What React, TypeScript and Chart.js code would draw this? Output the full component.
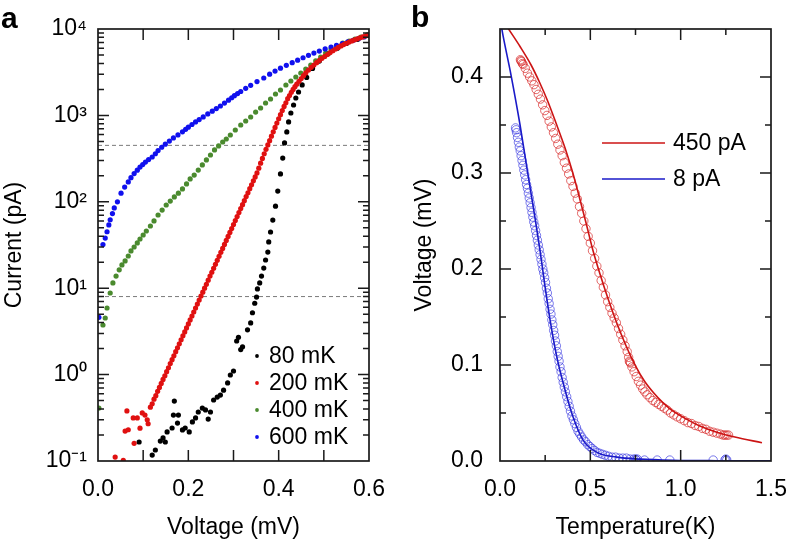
import React, { useEffect, useRef } from 'react';
import { Chart, registerables } from 'chart.js';

Chart.register(...registerables);

const FONT = '"Liberation Sans", Arial, Helvetica, sans-serif';
Chart.defaults.font.family = FONT;
Chart.defaults.color = '#000';

// ---------------- Panel a : I-V curves (log current) ----------------
const LEGEND_A = ['80 mK', '200 mK', '400 mK', '600 mK'];
const COLORS_A = ['#000000', '#e01010', '#4a8a2e', '#1010ee'];

const V_80 = [0.091, 0.120, 0.127, 0.138, 0.144, 0.149, 0.153, 0.164, 0.167, 0.169, 0.176, 0.178, 0.187, 0.193, 0.202, 0.209, 0.216, 0.222, 0.231, 0.238, 0.244, 0.249, 0.256, 0.264, 0.271, 0.278, 0.287, 0.293, 0.300, 0.307, 0.311, 0.316, 0.320, 0.331, 0.338, 0.342, 0.347, 0.351, 0.353, 0.358, 0.362, 0.367, 0.371, 0.376, 0.378, 0.382, 0.387, 0.393, 0.398, 0.404, 0.409, 0.413, 0.418, 0.422, 0.427, 0.433, 0.438, 0.444, 0.452, 0.462, 0.475, 0.490, 0.510, 0.530, 0.550, 0.575, 0.600];
const I_80 = [0.166, 0.117, 0.134, 0.170, 0.185, 0.166, 0.217, 0.241, 0.340, 0.494, 0.275, 0.340, 0.229, 0.241, 0.217, 0.283, 0.315, 0.369, 0.410, 0.390, 0.306, 0.369, 0.508, 0.550, 0.580, 0.660, 0.800, 0.990, 1.10, 2.45, 2.70, 1.95, 2.10, 3.30, 3.96, 5.2, 6.7, 7.9, 9.8, 11.5, 13.8, 17.1, 21.2, 26.2, 34.3, 44.7, 61.5, 89, 133, 210, 321, 480, 643, 840, 1066, 1320, 1589, 1866, 2250, 2750, 3500, 4250, 5200, 6000, 6800, 7600, 8400];

const V_200 = [0.038, 0.056, 0.060, 0.064, 0.067, 0.078, 0.080, 0.087, 0.093, 0.098, 0.104, 0.109, 0.111,
  0.116, 0.120, 0.124, 0.128, 0.132, 0.136, 0.140, 0.144, 0.148, 0.152, 0.156, 0.160, 0.164, 0.168, 0.172, 0.176, 0.180, 0.184, 0.188, 0.192, 0.196, 0.200,
  0.204, 0.208, 0.212, 0.216, 0.220, 0.224, 0.228, 0.232, 0.236, 0.240, 0.244, 0.248, 0.252, 0.256, 0.260, 0.264, 0.268, 0.272, 0.276, 0.280, 0.284, 0.288,
  0.292, 0.296, 0.300, 0.304, 0.308, 0.312, 0.316, 0.320, 0.324, 0.328, 0.332, 0.336, 0.340, 0.344, 0.348, 0.352, 0.356, 0.360, 0.364, 0.368, 0.372, 0.376,
  0.380, 0.384, 0.388, 0.392, 0.396, 0.400, 0.404, 0.408, 0.412, 0.416, 0.420, 0.424, 0.428, 0.432, 0.436, 0.440, 0.445, 0.450, 0.455, 0.460, 0.466, 0.472,
  0.478, 0.484, 0.490, 0.496, 0.502, 0.508, 0.514, 0.520, 0.526, 0.532, 0.538, 0.544, 0.550, 0.556, 0.562, 0.568, 0.574, 0.580, 0.586, 0.592, 0.598];
const I_200 = [0.111, 0.102, 0.222, 0.380, 0.230, 0.315, 0.160, 0.315, 0.240, 0.360, 0.340, 0.300, 0.270,
  0.42, 0.46, 0.52, 0.57, 0.64, 0.71, 0.79, 0.88, 0.97, 1.08, 1.20, 1.34, 1.49, 1.65, 1.84, 2.04, 2.27, 2.53, 2.81, 3.12, 3.47, 3.86,
  4.29, 4.77, 5.30, 5.89, 6.55, 7.28, 8.10, 9.0, 10.0, 11.1, 12.4, 13.8, 15.3, 17.0, 18.9, 21.0, 23.4, 26.0, 28.9, 32.1, 35.7, 39.7,
  44.2, 49.1, 54.6, 60.7, 67.4, 75.0, 83.4, 92.7, 103, 115, 127, 142, 157, 175, 194, 216, 245, 280, 318, 360, 405, 455,
  510, 575, 645, 725, 815, 915, 1020, 1140, 1270, 1400, 1560, 1700, 1850, 2000, 2150, 2300, 2480, 2670, 2880, 3100, 3350, 3600,
  3830, 4080, 4330, 4580, 4820, 5070, 5330, 5600, 5870, 6120, 6370, 6600, 6830, 7050, 7280, 7500, 7700, 7900, 8100, 8300, 8480];

const V_400 = [0.002, 0.011, 0.016, 0.020, 0.027, 0.033, 0.040, 0.047, 0.053, 0.060, 0.067, 0.073, 0.080, 0.087, 0.093, 0.100, 0.107, 0.116, 0.124, 0.133,
  0.142, 0.151, 0.160, 0.169, 0.178, 0.187, 0.196, 0.204, 0.213, 0.222, 0.231, 0.240, 0.249, 0.258, 0.267, 0.276, 0.284, 0.293, 0.304, 0.316,
  0.327, 0.338, 0.349, 0.360, 0.371, 0.382, 0.393, 0.404, 0.416, 0.427, 0.438, 0.449, 0.460, 0.471, 0.482, 0.493, 0.504, 0.516, 0.529, 0.542,
  0.556, 0.569, 0.582, 0.596];
const I_400 = [0.41, 3.75, 4.52, 5.90, 8.80, 11.5, 13.8, 16.3, 18.6, 20.7, 23.6, 27.0, 30.0, 33.4, 37.1, 41.3, 45.9, 52.5, 60.0, 70.3,
  80.3, 91.8, 102, 114, 126, 141, 161, 184, 204, 233, 267, 305, 348, 398, 443, 492, 533, 593, 678, 774,
  861, 958, 1094, 1218, 1392, 1549, 1770, 1968, 2249, 2501, 2782, 3097, 3443, 3830, 4266, 4742, 5276, 5869, 6357, 6886,
  7263, 7656, 8080, 8530];

const V_600 = [0.002, 0.011, 0.016, 0.020, 0.024, 0.027, 0.032, 0.036, 0.043, 0.051, 0.059, 0.067, 0.073, 0.080, 0.087, 0.093, 0.099, 0.105, 0.112, 0.120,
  0.127, 0.133, 0.141, 0.149, 0.158, 0.167, 0.177, 0.187, 0.194, 0.200, 0.208, 0.216, 0.224, 0.233, 0.243, 0.253, 0.262, 0.271, 0.280, 0.289,
  0.296, 0.302, 0.309, 0.316, 0.327, 0.338, 0.352, 0.367, 0.380, 0.392, 0.404, 0.417, 0.430, 0.442, 0.454, 0.466, 0.478, 0.490, 0.503, 0.516,
  0.528, 0.541, 0.553, 0.565, 0.577, 0.589, 0.600];
const I_600 = [4.6, 32, 38, 45, 54, 62, 73, 85, 100, 126, 148, 170, 190, 212, 232, 252, 270, 288, 308, 330,
  360, 392, 428, 465, 505, 548, 595, 645, 690, 730, 785, 840, 895, 960, 1040, 1120, 1200, 1285, 1390, 1500,
  1600, 1690, 1790, 1890, 2060, 2230, 2460, 2710, 3000, 3260, 3520, 3800, 4080, 4360, 4650, 4960, 5270, 5560, 5880, 6180,
  6480, 6790, 7080, 7400, 7740, 8080, 8500];

const DASH_LEVELS = [450, 8];

const A_X_TICKS = [0, 0.1, 0.2, 0.3, 0.4, 0.5, 0.6];
const A_X_LABELS = ['0.0', '', '0.2', '', '0.4', '', '0.6'];
const A_Y_DECADES = [0.1, 1, 10, 100, 1000, 10000];
const A_Y_LABELS = ['10\u207B\u00B9', '10\u2070', '10\u00B9', '10\u00B2', '10\u00B3', '10\u2074'];
const A_Y_MINOR = [2, 3, 4, 5, 6, 7, 8, 9];

// ---------------- Panel b : V(T) at fixed current ----------------
const LEGEND_B = ['450 pA', '8 pA'];
const COLORS_B_LINE = ['#cc1414', '#1a1ac8'];
const COLORS_B_PTS = ['rgba(215,40,40,0.7)', 'rgba(50,50,225,0.65)'];

const T_450 = [0.113, 0.116, 0.119, 0.124, 0.128, 0.140, 0.152, 0.164, 0.176, 0.188, 0.200, 0.212, 0.224, 0.236, 0.248, 0.260, 0.272, 0.284, 0.296, 0.308,
  0.320, 0.332, 0.344, 0.356, 0.368, 0.380, 0.392, 0.404, 0.416, 0.428, 0.440, 0.452, 0.464, 0.476, 0.488, 0.500, 0.512, 0.524, 0.536, 0.548,
  0.560, 0.572, 0.584, 0.596, 0.608, 0.620, 0.632, 0.644, 0.656, 0.668, 0.680, 0.692, 0.704, 0.712, 0.716, 0.719, 0.722, 0.730, 0.742, 0.754,
  0.766, 0.778, 0.790, 0.802, 0.814, 0.830, 0.846, 0.862, 0.878, 0.894, 0.910, 0.926, 0.944, 0.962, 0.980, 1.000, 1.020, 1.040, 1.060, 1.080,
  1.100, 1.120, 1.140, 1.160, 1.180, 1.200, 1.220, 1.235, 1.245, 1.255, 1.265];
const VT_450 = [0.418, 0.417, 0.416, 0.414, 0.413, 0.409, 0.404, 0.400, 0.396, 0.392, 0.387, 0.382, 0.377, 0.371, 0.365, 0.360, 0.354, 0.348, 0.342, 0.336,
  0.330, 0.324, 0.318, 0.311, 0.305, 0.299, 0.292, 0.286, 0.279, 0.273, 0.265, 0.258, 0.250, 0.242, 0.234, 0.227, 0.219, 0.211, 0.203, 0.196,
  0.188, 0.181, 0.173, 0.166, 0.160, 0.154, 0.149, 0.144, 0.138, 0.132, 0.126, 0.120, 0.114, 0.108, 0.104, 0.103, 0.102, 0.098, 0.093, 0.088,
  0.083, 0.079, 0.075, 0.072, 0.069, 0.066, 0.063, 0.061, 0.059, 0.057, 0.055, 0.053, 0.050, 0.048, 0.046, 0.044, 0.042, 0.040, 0.039, 0.037,
  0.036, 0.034, 0.033, 0.031, 0.030, 0.029, 0.028, 0.027, 0.027, 0.027, 0.027];

const T_8 = [0.086, 0.089, 0.092, 0.097, 0.102, 0.107, 0.112, 0.117, 0.122, 0.127, 0.132, 0.137, 0.142, 0.147, 0.152, 0.157, 0.162, 0.167, 0.172, 0.177,
  0.182, 0.187, 0.192, 0.197, 0.202, 0.207, 0.212, 0.217, 0.222, 0.227, 0.232, 0.237, 0.242, 0.247, 0.252, 0.257, 0.262, 0.267, 0.272, 0.277,
  0.282, 0.287, 0.292, 0.297, 0.302, 0.307, 0.312, 0.317, 0.322, 0.327, 0.332, 0.338, 0.344, 0.350, 0.356, 0.362, 0.369, 0.376, 0.383, 0.390,
  0.398, 0.406, 0.414, 0.423, 0.432, 0.442, 0.452, 0.463, 0.474, 0.486, 0.498, 0.510, 0.523, 0.537, 0.552, 0.567, 0.583, 0.600, 0.620, 0.640,
  0.660, 0.680, 0.700, 0.720, 0.740, 0.750, 0.755, 0.760, 0.800, 0.870, 0.940, 1.180, 1.245, 1.250, 1.255];
const VT_8 = [0.347, 0.345, 0.342, 0.337, 0.332, 0.327, 0.323, 0.318, 0.313, 0.308, 0.303, 0.298, 0.293, 0.288, 0.284, 0.279, 0.274, 0.269, 0.264, 0.259,
  0.254, 0.249, 0.245, 0.240, 0.235, 0.230, 0.225, 0.220, 0.215, 0.210, 0.205, 0.200, 0.196, 0.191, 0.186, 0.180, 0.175, 0.169, 0.164, 0.158,
  0.153, 0.147, 0.142, 0.136, 0.131, 0.125, 0.120, 0.114, 0.109, 0.104, 0.098, 0.093, 0.087, 0.082, 0.077, 0.072, 0.067, 0.062, 0.057, 0.052,
  0.047, 0.043, 0.039, 0.035, 0.031, 0.028, 0.025, 0.022, 0.020, 0.017, 0.015, 0.013, 0.011, 0.009, 0.008, 0.007, 0.006, 0.005, 0.004, 0.004,
  0.003, 0.003, 0.003, 0.002, 0.002, 0.002, 0.001, 0.002, 0.001, 0.001, 0.001, 0.001, 0.001, 0.002, 0.001];

const T_FIT_450 = [0.0, 0.044, 0.11, 0.172, 0.22, 0.266, 0.31, 0.36, 0.40, 0.432, 0.475, 0.515, 0.553, 0.6, 0.65, 0.7, 0.75, 0.8, 0.85, 0.9, 0.95, 1.0, 1.1, 1.2, 1.3, 1.45];
const V_FIT_450 = [0.464, 0.451, 0.432, 0.4125, 0.394, 0.374, 0.352, 0.326, 0.302, 0.28, 0.249, 0.219, 0.195, 0.168, 0.142, 0.119, 0.099, 0.083, 0.071, 0.061, 0.053, 0.047, 0.037, 0.030, 0.025, 0.019];

const T_FIT_8 = [0.0, 0.011, 0.061, 0.111, 0.155, 0.194, 0.221, 0.249, 0.277, 0.315, 0.36, 0.404, 0.459, 0.537, 0.647, 0.775, 0.957, 1.2, 1.5];
const V_FIT_8 = [0.462, 0.449, 0.402, 0.35, 0.298, 0.253, 0.22, 0.182, 0.147, 0.108, 0.074, 0.046, 0.022, 0.009, 0.004, 0.002, 0.0008, 0.0003, 0.0001];

const B_X_TICKS = [0, 0.25, 0.5, 0.75, 1.0, 1.25, 1.5];
const B_X_LABELS = ['0.0', '', '0.5', '', '1.0', '', '1.5'];
const B_Y_TICKS = [0, 0.05, 0.1, 0.15, 0.2, 0.25, 0.3, 0.35, 0.4, 0.45];
const B_Y_LABELS = ['0.0', '', '0.1', '', '0.2', '', '0.3', '', '0.4', ''];

// ---------------- helpers ----------------
const pts = (xs: number[], ys: number[]) => xs.map((x, i) => ({ x, y: ys[i] }));

type FrameCfg = {
  xMajor: (i: number) => boolean;
  yMajor: (i: number) => boolean;
  extra: (ctx: CanvasRenderingContext2D) => void;
};

function framePlugin(cfg: FrameCfg) {
  return {
    id: 'frameTicks',
    afterDraw(chart: any) {
      const ctx: CanvasRenderingContext2D = chart.ctx;
      const { left, right, top, bottom } = chart.chartArea;
      const xs = chart.scales.x;
      const ys = chart.scales.y;
      ctx.save();
      ctx.strokeStyle = '#1a1a1a';
      ctx.lineWidth = 1.5;
      ctx.beginPath();
      xs.ticks.forEach((t: any, i: number) => {
        const p = xs.getPixelForValue(t.value);
        if (p <= left + 1 || p >= right - 1) return;
        const L = cfg.xMajor(i) ? 11 : 6;
        ctx.moveTo(p, bottom);
        ctx.lineTo(p, bottom - L);
        ctx.moveTo(p, top);
        ctx.lineTo(p, top + L);
      });
      ys.ticks.forEach((t: any, i: number) => {
        const p = ys.getPixelForValue(t.value);
        if (p <= top + 1 || p >= bottom - 1) return;
        const L = cfg.yMajor(i) ? 11 : 6;
        ctx.moveTo(left, p);
        ctx.lineTo(left + L, p);
        ctx.moveTo(right, p);
        ctx.lineTo(right - L, p);
      });
      ctx.stroke();
      ctx.lineWidth = 1.7;
      ctx.strokeRect(left, top, right - left, bottom - top);
      cfg.extra(ctx);
      ctx.restore();
    },
  };
}

const fixAxis = (w?: number, h?: number) => (s: any) => {
  if (w !== undefined) s.width = w;
  if (h !== undefined) s.height = h;
  s.paddingLeft = 0;
  s.paddingRight = 0;
  s.paddingTop = 0;
  s.paddingBottom = 0;
};

const tickFont = { size: 23, family: FONT };
const titleFont = { size: 23, family: FONT };

function buildA(canvas: HTMLCanvasElement) {
  const yTicks: number[] = [];
  const yMajorFlags: boolean[] = [];
  A_Y_DECADES.forEach((d, k) => {
    yTicks.push(d);
    yMajorFlags.push(true);
    if (k < A_Y_DECADES.length - 1) {
      A_Y_MINOR.forEach((m) => {
        yTicks.push(d * m);
        yMajorFlags.push(false);
      });
    }
  });
  const yLabel = (v: number) => {
    const k = A_Y_DECADES.findIndex((d) => Math.abs(d - v) / d < 1e-6);
    return k >= 0 ? A_Y_LABELS[k] : '';
  };

  const series = [
    { label: LEGEND_A[1], data: pts(V_200, I_200), color: COLORS_A[1] },
    { label: LEGEND_A[3], data: pts(V_600, I_600), color: COLORS_A[3] },
    { label: LEGEND_A[2], data: pts(V_400, I_400), color: COLORS_A[2] },
    { label: LEGEND_A[0], data: pts(V_80, I_80), color: COLORS_A[0] },
  ];
  const datasets: any[] = series.map((s) => ({
    label: s.label,
    data: s.data,
    pointRadius: 2.6,
    pointBackgroundColor: s.color,
    pointBorderWidth: 0,
    pointBorderColor: s.color,
    showLine: false,
  }));
  DASH_LEVELS.forEach((lv) => {
    datasets.push({
      label: 'level ' + lv,
      data: [{ x: A_X_TICKS[0], y: lv }, { x: A_X_TICKS[A_X_TICKS.length - 1], y: lv }],
      showLine: true,
      borderColor: '#7a7a7a',
      borderWidth: 1,
      borderDash: [4, 3],
      pointRadius: 0,
    });
  });

  return new Chart(canvas, {
    type: 'scatter',
    data: { datasets },
    options: {
      animation: false,
      responsive: false,
      devicePixelRatio: 1,
      events: [],
      layout: { padding: { top: 29, right: 25, left: 0, bottom: 0 } },
      plugins: { legend: { display: false }, tooltip: { enabled: false } },
      scales: {
        x: {
          type: 'linear',
          min: 0,
          max: 0.6,
          afterBuildTicks: (s: any) => { s.ticks = A_X_TICKS.map((v) => ({ value: v })); },
          afterFit: fixAxis(undefined, 81),
          ticks: { autoSkip: false, maxRotation: 0, padding: 15, font: tickFont, callback: (_v: any, i: number) => A_X_LABELS[i] },
          grid: { display: false, drawTicks: false },
          border: { display: false },
          title: { display: true, text: 'Voltage (mV)', font: titleFont, padding: { top: 0, bottom: 1 } },
        },
        y: {
          type: 'logarithmic',
          min: 0.1,
          max: 10000,
          afterBuildTicks: (s: any) => { s.ticks = yTicks.map((v) => ({ value: v })); },
          afterFit: fixAxis(98, undefined),
          ticks: { autoSkip: false, padding: 11, font: tickFont, callback: (v: any) => yLabel(Number(v)) },
          grid: { display: false, drawTicks: false },
          border: { display: false },
          title: { display: true, text: 'Current (pA)', font: titleFont, padding: { top: 1, bottom: 0 } },
        },
      },
    } as any,
    plugins: [
      framePlugin({
        xMajor: () => true,
        yMajor: (i) => yMajorFlags[i],
        extra: (ctx) => {
          ctx.font = `23px ${FONT}`;
          ctx.textBaseline = 'middle';
          ctx.textAlign = 'left';
          LEGEND_A.forEach((lab, i) => {
            const y = 356 + i * 27;
            ctx.fillStyle = COLORS_A[i];
            ctx.beginPath();
            ctx.arc(257, y, 1.9, 0, Math.PI * 2);
            ctx.fill();
            ctx.fillStyle = '#000';
            ctx.fillText(lab, 269, y + 1);
          });
          ctx.font = `bold 30px ${FONT}`;
          ctx.textBaseline = 'alphabetic';
          ctx.fillText('a', 1, 28);
        },
      }),
    ],
  });
}

function buildB(canvas: HTMLCanvasElement) {
  const datasets: any[] = [
    { label: LEGEND_B[0] + ' fit', data: pts(T_FIT_450, V_FIT_450), showLine: true, borderColor: COLORS_B_LINE[0], borderWidth: 1.6, pointRadius: 0, cubicInterpolationMode: 'monotone' },
    { label: LEGEND_B[1] + ' fit', data: pts(T_FIT_8, V_FIT_8), showLine: true, borderColor: COLORS_B_LINE[1], borderWidth: 1.6, pointRadius: 0, cubicInterpolationMode: 'monotone' },
    { label: LEGEND_B[0], data: pts(T_450, VT_450), showLine: false, pointRadius: 4.2, pointBorderWidth: 1, pointBorderColor: COLORS_B_PTS[0], pointBackgroundColor: 'rgba(0,0,0,0)' },
    { label: LEGEND_B[1], data: pts(T_8, VT_8), showLine: false, pointRadius: 4.2, pointBorderWidth: 1, pointBorderColor: COLORS_B_PTS[1], pointBackgroundColor: 'rgba(0,0,0,0)' },
  ];
  return new Chart(canvas, {
    type: 'scatter',
    data: { datasets },
    options: {
      animation: false,
      responsive: false,
      devicePixelRatio: 1,
      events: [],
      layout: { padding: { top: 29, right: 17, left: 0, bottom: 0 } },
      plugins: { legend: { display: false }, tooltip: { enabled: false } },
      scales: {
        x: {
          type: 'linear',
          min: 0,
          max: 1.5,
          afterBuildTicks: (s: any) => { s.ticks = B_X_TICKS.map((v) => ({ value: v })); },
          afterFit: fixAxis(undefined, 81),
          ticks: { autoSkip: false, maxRotation: 0, padding: 15, font: tickFont, callback: (_v: any, i: number) => B_X_LABELS[i] },
          grid: { display: false, drawTicks: false },
          border: { display: false },
          title: { display: true, text: 'Temperature(K)', font: titleFont, padding: { top: 0, bottom: 1 } },
        },
        y: {
          type: 'linear',
          min: 0,
          max: 0.45,
          afterBuildTicks: (s: any) => { s.ticks = B_Y_TICKS.map((v) => ({ value: v })); },
          afterFit: fixAxis(106, undefined),
          ticks: { autoSkip: false, padding: 17, font: tickFont, callback: (_v: any, i: number) => B_Y_LABELS[i] },
          grid: { display: false, drawTicks: false },
          border: { display: false },
          title: { display: true, text: 'Voltage (mV)', font: titleFont, padding: { top: 17, bottom: 0 } },
        },
      },
    } as any,
    plugins: [
      framePlugin({
        xMajor: (i) => B_X_LABELS[i] !== '',
        yMajor: (i) => B_Y_LABELS[i] !== '',
        extra: (ctx) => {
          ctx.font = `23px ${FONT}`;
          ctx.textBaseline = 'middle';
          ctx.textAlign = 'left';
          LEGEND_B.forEach((lab, i) => {
            const y = 143 + i * 36;
            ctx.strokeStyle = COLORS_B_LINE[i];
            ctx.lineWidth = 1.6;
            ctx.beginPath();
            ctx.moveTo(208, y);
            ctx.lineTo(271, y);
            ctx.stroke();
            ctx.fillStyle = '#000';
            ctx.fillText(lab, 279, y + 1);
          });
          ctx.font = `bold 30px ${FONT}`;
          ctx.textBaseline = 'alphabetic';
          ctx.fillText('b', 17, 27);
        },
      }),
    ],
  });
}

function Panel({ build, left }: { build: (c: HTMLCanvasElement) => Chart; left: number }) {
  const ref = useRef<HTMLCanvasElement>(null);
  useEffect(() => {
    const chart = build(ref.current as HTMLCanvasElement);
    return () => chart.destroy();
  }, [build]);
  return (
    <canvas
      ref={ref}
      width={394}
      height={542}
      style={{ position: 'absolute', left, top: 0, width: 394, height: 542 }}
    />
  );
}

export default function App() {
  return (
    <div style={{ position: 'absolute', left: 0, top: 0, width: 788, height: 542, background: '#fff', overflow: 'hidden' }}>
      <Panel build={buildA} left={0} />
      <Panel build={buildB} left={394} />
    </div>
  );
}
